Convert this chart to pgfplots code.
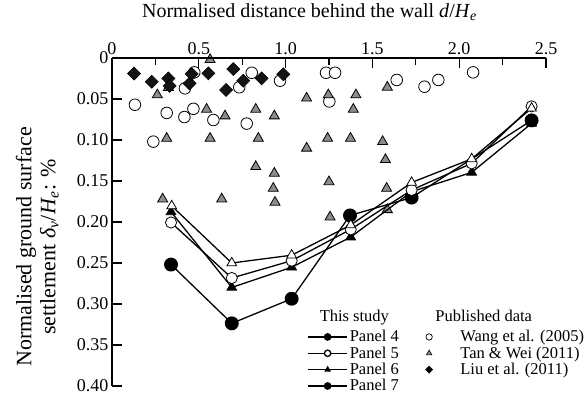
\documentclass[border=0pt]{standalone}
\usepackage{fontspec}
\setmainfont{Liberation Serif}
\usepackage{pgfplots}
\usepackage{pgfplotstable}
\pgfplotsset{compat=1.18}

\definecolor{tangray}{RGB}{140,140,140}

% Published data
\pgfplotstableread{
x y
0.132 0.057
0.238 0.102
0.315 0.067
0.417 0.072
0.469 0.062
0.420 0.037
0.474 0.0175
0.584 0.0756
0.733 0.0357
0.776 0.080
0.805 0.018
0.968 0.0277
1.233 0.018
1.285 0.018
1.252 0.053
1.640 0.0268
1.800 0.035
1.880 0.0268
2.080 0.0175
}\wangdata

\pgfplotstableread{
x y
0.565 0.002
0.261 0.045
0.325 0.036
0.315 0.098
0.545 0.0626
0.651 0.0707
0.565 0.098
0.828 0.0626
0.843 0.098
0.935 0.0707
0.828 0.1325
0.935 0.1406
0.929 0.159
0.939 0.176
1.121 0.049
1.121 0.110
1.246 0.045
1.242 0.098
1.250 0.151
1.256 0.194
0.632 0.172
0.292 0.172
1.374 0.098
1.405 0.045
1.390 0.0626
1.586 0.0357
1.559 0.102
1.575 0.124
1.582 0.159
1.586 0.185
}\tandata

\pgfplotstableread{
x y
0.127 0.0190
0.229 0.029
0.325 0.025
0.332 0.034
0.447 0.031
0.459 0.0195
0.555 0.0187
0.699 0.0135
0.657 0.039
0.756 0.0277
0.862 0.0248
0.987 0.0199
}\liudata

% This study
\pgfplotstableread{
x y
0.344 0.1804
0.690 0.2500
1.035 0.2405
1.375 0.2037
1.726 0.1518
2.072 0.1230
2.417 0.0613
}\panelfour

\pgfplotstableread{
x y
0.340 0.2006
0.690 0.2683
1.035 0.2472
1.375 0.2090
1.726 0.1610
2.072 0.1285
2.417 0.0589
}\panelfive

\pgfplotstableread{
x y
0.340 0.1877
0.690 0.2798
1.035 0.2552
1.375 0.2184
1.726 0.1630
2.072 0.1395
2.417 0.0798
}\panelsix

\pgfplotstableread{
x y
0.340 0.2519
0.690 0.3236
1.035 0.2936
1.371 0.1920
1.726 0.1702
2.417 0.0761
}\panelseven

\pgfplotsset{
  common/.style={
    at={(0pt,0pt)}, anchor=south west,
    scale only axis, width=434pt, height=328pt,
    xmin=0, xmax=2.5, ymin=0, ymax=0.4, y dir=reverse,
    clip=false,
  },
  legfont/.style={font=\fontsize{16.5}{18}\selectfont},
}

\begin{document}
\begin{tikzpicture}
% published data, drawn first and without axis lines
\begin{axis}[
  common, hide axis,
  legend style={at={(axis description cs:0.716,0.235)}, anchor=north west,
    draw=none, fill=none, legfont, inner sep=0pt, row sep=1.4pt,
    nodes={inner ysep=1pt}},
  legend cell align=left,
  legend image code/.code={\path (0pt,0pt) (35pt,0pt); \draw[#1] plot coordinates {(6pt,0pt)};},
]
\addplot[only marks, mark=*, mark size=5.8pt,
  mark options={fill=white, draw=black, line width=0.8pt}, forget plot] table {\wangdata};
\addplot[only marks, mark=triangle*, mark size=5.8pt,
  mark options={fill=tangray, draw=black, line width=0.8pt}, forget plot] table {\tandata};
\addplot[only marks, mark=square*, mark size=4.6pt,
  mark options={fill=black!92, draw=black, rotate=45, line width=0.6pt}, forget plot] table {\liudata};

\addlegendimage{empty legend}
\addlegendentry{\hspace{-25pt}\raisebox{4pt}{Published data}}
\addlegendimage{only marks, mark=*, mark size=3.2pt, mark options={fill=white, draw=black, line width=0.7pt}}
\addlegendentry{Wang et al. (2005)}
\addlegendimage{only marks, mark=triangle*, mark size=3.2pt, mark options={fill=tangray, draw=black, line width=0.6pt}}
\addlegendentry{Tan \& Wei (2011)}
\addlegendimage{only marks, mark=square*, mark size=2.6pt, mark options={fill=black, draw=black, rotate=45}}
\addlegendentry{Liu et al. (2011)}
\end{axis}

% this study, with the axis lines
\begin{axis}[
  common,
  axis x line*=top, axis y line*=left,
  axis line style={line width=1.3pt, -},
  xtick={0,0.5,1,1.5,2,2.5},
  xticklabels={0,0.5,1.0,1.5,2.0,2.5},
  minor xtick={0.25,0.75,1.25,1.75,2.25},
  ytick={0,0.05,0.1,0.15,0.2,0.25,0.3,0.35,0.4},
  yticklabels={0,0.05,0.10,0.15,0.20,0.25,0.30,0.35,0.40},
  tick align=inside,
  major tick length=10pt, minor tick length=7pt,
  every tick/.style={line width=1.3pt, black},
  ticklabel style={font=\fontsize{18}{18}\selectfont},
  /pgf/number format/assume math mode=true,
  xlabel={Normalised distance behind the wall \textit{d}/\textit{H}\textsubscript{\textit{e}}},
  xlabel style={at={(axis description cs:0.455,1.14)}, anchor=center,
    font=\fontsize{20}{22}\selectfont},
  ylabel={Normalised ground surface\\settlement \textit{δ}\textsubscript{\textit{v}}/\textit{H}\textsubscript{\textit{e}}: \%},
  ylabel style={at={(axis description cs:-0.172,0.424)}, anchor=center, rotate=0,
    align=center, font=\fontsize{22}{24}\selectfont},
  legend style={at={(axis description cs:0.450,0.235)}, anchor=north west,
    draw=none, fill=none, legfont, inner sep=0pt, row sep=1.4pt,
    nodes={inner ysep=1pt}},
  legend cell align=left,
  legend image code/.code={\draw[#1, mark repeat=2, mark phase=2]
    plot coordinates {(0pt,0pt) (19.5pt,0pt) (39pt,0pt)};},
]
\addplot[black, line width=1.3pt, mark=*, mark size=6.3pt,
  mark options={fill=black, draw=black}, forget plot] table {\panelseven};
\addplot[black, line width=1.3pt, mark=triangle*, mark size=5.6pt,
  mark options={fill=black, draw=black, line width=0.8pt}, forget plot] table {\panelsix};
\addplot[black, line width=1.3pt, mark=*, mark size=5.6pt,
  mark options={fill=white, draw=black, line width=0.8pt}, forget plot] table {\panelfive};
\addplot[black, line width=1.3pt, mark=triangle*, mark size=5.6pt,
  mark options={fill=white, draw=black, line width=0.8pt}, forget plot] table {\panelfour};

\addlegendimage{empty legend}
\addlegendentry{\hspace{-30pt}\raisebox{4pt}{This study}}
\addlegendimage{black, line width=1.3pt, mark=*, mark size=3.2pt, mark options={fill=black}}
\addlegendentry{Panel 4}
\addlegendimage{black, line width=1.3pt, mark=*, mark size=3.2pt, mark options={fill=white}}
\addlegendentry{Panel 5}
\addlegendimage{black, line width=1.3pt, mark=triangle*, mark size=2.6pt, mark options={fill=black}}
\addlegendentry{Panel 6}
\addlegendimage{black, line width=1.3pt, mark=*, mark size=3.2pt, mark options={fill=black}}
\addlegendentry{Panel 7}
\end{axis}
\pgfresetboundingbox
\path[use as bounding box] (-112pt,-15pt) rectangle (475pt,386pt);
\end{tikzpicture}
\end{document}
